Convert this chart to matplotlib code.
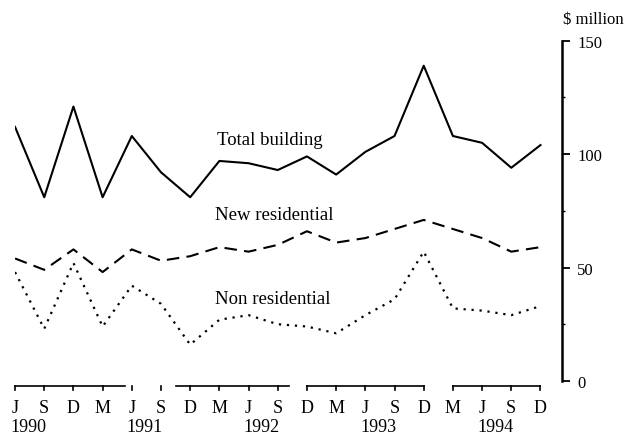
import matplotlib
matplotlib.use("Agg")
import matplotlib.pyplot as plt
from matplotlib.ticker import MultipleLocator

# quarterly values, June 1990 to December 1994 ($ million)
months = ["J", "S", "D", "M"] * 4 + ["J", "S", "D"]
years = ["1990", "1991", "1992", "1993", "1994"]

total_building = [112, 81, 121, 81, 108, 92, 81, 97, 96, 93, 99, 91,
                  101, 108, 139, 108, 105, 94, 104]
new_residential = [54, 49, 58, 48, 58, 53, 55, 59, 57, 60, 66, 61,
                   63, 67, 71, 67, 63, 57, 59]
non_residential = [48, 23, 52, 24, 42, 34, 16, 27, 29, 25, 24, 21,
                   29, 36, 57, 32, 31, 29, 33]

x = list(range(len(months)))

plt.rcParams["font.family"] = ["Liberation Serif", "DejaVu Serif"]

fig = plt.figure(figsize=(6.27, 4.35), dpi=100)
ax = fig.add_axes([0.024, 0.122, 0.872, 0.782])

ax.plot(x, total_building, color="black", linewidth=1.5)
ax.plot(x, new_residential, color="black", linewidth=1.5,
        dashes=(6, 3.5))
ax.plot(x, non_residential, color="black", linewidth=1.6,
        linestyle=(0, (1, 2.6)))

ax.text(6.92, 106.5, "Total building", fontsize=13.5, va="center")
ax.text(6.85, 73.5, "New residential", fontsize=13.5, va="center")
ax.text(6.85, 36.5, "Non residential", fontsize=13.5, va="center")

ax.set_xlim(0, 18.73)
ax.set_ylim(0, 150)

for side in ["left", "top", "bottom"]:
    ax.spines[side].set_visible(False)
ax.spines["right"].set_linewidth(1.8)

ax.yaxis.tick_right()
ax.set_yticks([0, 50, 100, 150])
ax.yaxis.set_minor_locator(MultipleLocator(25))
ax.tick_params(axis="y", which="major", direction="out", length=6,
               width=1.3, labelsize=12, pad=5)
ax.tick_params(axis="y", which="minor", direction="out", length=2.5,
               width=1.0)
ax.set_xticks([])

fig.text(563 / 627, 1 - 20 / 435, "\\$ million", fontsize=12, va="center")

# broken time axis, as in the printed original
axis_y = -2.2
segments = [(0, 3.77), (5.5, 9.4), (10, 14), (15, 18)]
for a, b in segments:
    ax.plot([a, b], [axis_y, axis_y], color="black", linewidth=1.2,
            clip_on=False)
for xi, m in zip(x, months):
    ax.plot([xi, xi], [axis_y, axis_y - 2.0], color="black",
            linewidth=1.2, clip_on=False)
    ax.text(xi, -11.5, m, fontsize=13, ha="center", va="center",
            clip_on=False)

june_idx = [i for i, m in enumerate(months) if m == "J"]
for xi, yr in zip(june_idx, years):
    ax.text(xi + 0.45, -20, yr, fontsize=13, ha="center", va="center",
            clip_on=False)

fig.savefig("out.png", dpi=100)
